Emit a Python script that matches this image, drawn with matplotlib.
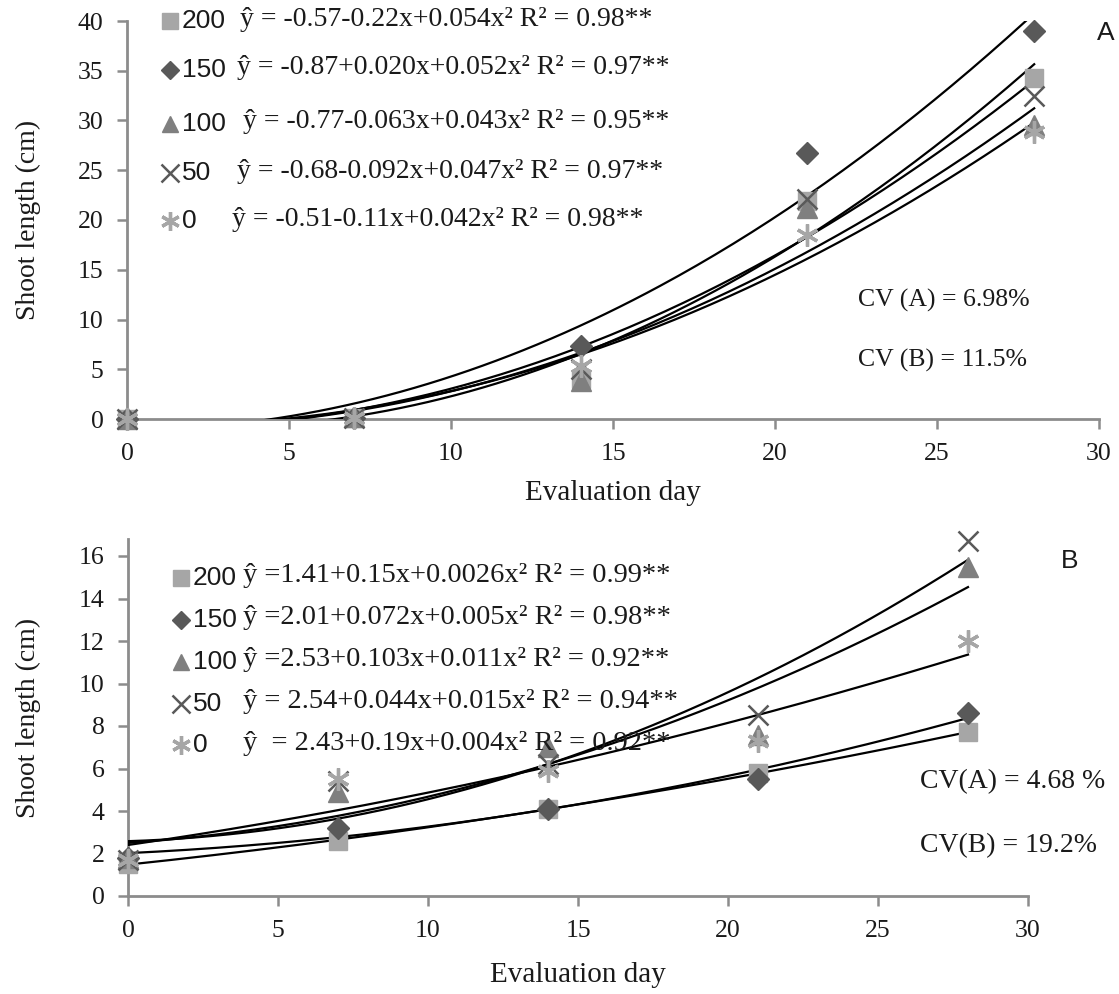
import numpy as np
import matplotlib
matplotlib.use("Agg")
import matplotlib.pyplot as plt

# evaluation days
days = [0, 7, 14, 21, 28]

# doses (legend labels)
doses = ["200", "150", "100", "50", "0"]

# panel A - shoot length (cm)
a200 = [0.0, 0.1, 4.0, 21.9, 34.3]
a150 = [0.0, 0.1, 7.3, 26.7, 39.0]
a100 = [0.0, 0.2, 3.8, 21.2, 29.5]
a50 = [0.0, 0.1, 5.0, 22.1, 32.5]
a0 = [0.0, 0.1, 5.3, 18.5, 28.8]

# panel B - shoot length (cm)
b200 = [1.5, 2.6, 4.1, 5.8, 7.7]
b150 = [1.8, 3.2, 4.1, 5.5, 8.6]
b100 = [1.8, 4.9, 7.0, 7.6, 15.5]
b50 = [1.7, 5.4, 6.2, 8.5, 16.7]
b0 = [1.7, 5.5, 5.9, 7.3, 12.0]

eqA = ["\u0177 = -0.57-0.22x+0.054x\u00b2 R\u00b2 = 0.98**",
       "\u0177 = -0.87+0.020x+0.052x\u00b2 R\u00b2 = 0.97**",
       "\u0177 = -0.77-0.063x+0.043x\u00b2 R\u00b2 = 0.95**",
       "\u0177 = -0.68-0.092x+0.047x\u00b2 R\u00b2 = 0.97**",
       "\u0177 = -0.51-0.11x+0.042x\u00b2 R\u00b2 = 0.98**"]
eqB = ["\u0177 =1.41+0.15x+0.0026x\u00b2 R\u00b2 = 0.99**",
       "\u0177 =2.01+0.072x+0.005x\u00b2 R\u00b2 = 0.98**",
       "\u0177 =2.53+0.103x+0.011x\u00b2 R\u00b2 = 0.92**",
       "\u0177 = 2.54+0.044x+0.015x\u00b2 R\u00b2 = 0.94**",
       "\u0177  = 2.43+0.19x+0.004x\u00b2 R\u00b2 = 0.92**"]

#marker styles per dose
styles = [dict(marker="s", color="#a6a6a6", mec="#a6a6a6", mew=1, ms=13),
          dict(marker="D", color="#595959", mec="#595959", mew=1, ms=11),
          dict(marker="^", color="#7f7f7f", mec="#7f7f7f", mew=1, ms=14),
          dict(marker="x", color="#595959", mec="#595959", mew=1.8, ms=15),
          dict(marker=(6, 2, 0), color="#a6a6a6", mec="#a6a6a6", mew=2.4, ms=16)]

W, H = 1119, 994
serif = "Liberation Serif"
sans = "Liberation Sans"
axcol = "#8c8c8c"
txtcol = "#1a1a1a"

fig = plt.figure(figsize=(W / 100, H / 100), dpi=100)

def px(x, y):
    return x / W, 1 - y / H

def setup(ax, ylim, yticks):
    ax.set_xlim(0, 30)
    ax.set_ylim(*ylim)
    ax.set_xticks(range(0, 31, 5))
    ax.set_yticks(yticks)
    for s in ["top", "right"]:
        ax.spines[s].set_visible(False)
    for s in ["left", "bottom"]:
        ax.spines[s].set_color(axcol)
        ax.spines[s].set_linewidth(2)
    ax.tick_params(direction="out", length=7, width=1.8, color=axcol,
                   labelsize=18.5, labelcolor=txtcol, pad=10)
    for lab in ax.get_xticklabels() + ax.get_yticklabels():
        lab.set_family(serif)

def panel(ax, series):
    xs = np.linspace(0, 28, 200)
    for ys in series:
        c = np.polyfit(days, ys, 2)
        ax.plot(xs, np.polyval(c, xs), color="black", lw=1.6, zorder=3)
    for ys, st in zip(series, styles):
        ax.plot(days, ys, ls="none", clip_on=False, zorder=4, **st)

axA = fig.add_axes([127 / W, 1 - 419 / H, (1099 - 127) / W, (419 - 21) / H])
panel(axA, [a200, a150, a100, a50, a0])
setup(axA, (0, 40), range(0, 41, 5))

axB = fig.add_axes([128 / W, 1 - 896 / H, (1028 - 128) / W, (896 - 539) / H])
panel(axB, [b200, b150, b100, b50, b0])
setup(axB, (0, 16.8), range(0, 17, 2))

# axis titles
fig.text(*px(28, 220), "Shoot length (cm)", family=serif, fontsize=20, rotation=90,
         ha="center", va="center", color=txtcol)
fig.text(*px(28, 718), "Shoot length (cm)", family=serif, fontsize=20, rotation=90,
         ha="center", va="center", color=txtcol)
fig.text(*px(613, 493), "Evaluation day", family=serif, fontsize=21,
         ha="center", va="center", color=txtcol)
fig.text(*px(578, 975), "Evaluation day", family=serif, fontsize=21,
         ha="center", va="center", color=txtcol)

# legend rows with equations
rowsA = [21, 70, 124, 173, 221]
eqxA = [240, 237, 243, 237, 232]
rowsB = [578, 620, 662, 704, 745]
eqxB = [243, 243, 243, 243, 243]
for rows, eqx, eqs, mx, fs in [(rowsA, eqxA, eqA, 170, 20), (rowsB, eqxB, eqB, 181, 20.5)]:
    for y, ex, d, eq, st in zip(rows, eqx, doses, eqs, styles):
        mst = dict(st)
        mst["ms"] = st["ms"] * 0.85
        fig.lines.append(plt.Line2D([mx / W], [1 - y / H], transform=fig.transFigure,
                                    ls="none", **mst))
        fig.text(*px(mx + 12, y), d, family=sans, fontsize=19, va="center", ha="left",
                 color=txtcol)
        fig.text(*px(ex, y - 2), eq, family=serif, fontsize=fs, va="center", ha="left",
                 color=txtcol)

fig.text(*px(858, 300), "CV (A) = 6.98%", family=serif, fontsize=18.5, va="center", color=txtcol)
fig.text(*px(858, 360), "CV (B) = 11.5%", family=serif, fontsize=18.5, va="center", color=txtcol)
fig.text(*px(920, 782), "CV(A) = 4.68 %", family=serif, fontsize=20, va="center", color=txtcol)
fig.text(*px(920, 846), "CV(B) = 19.2%", family=serif, fontsize=20, va="center", color=txtcol)
fig.text(*px(1097, 33), "A", family=sans, fontsize=19, va="center", color=txtcol)
fig.text(*px(1061, 561), "B", family=sans, fontsize=19, va="center", color=txtcol)

fig.savefig("out.png", dpi=100)
